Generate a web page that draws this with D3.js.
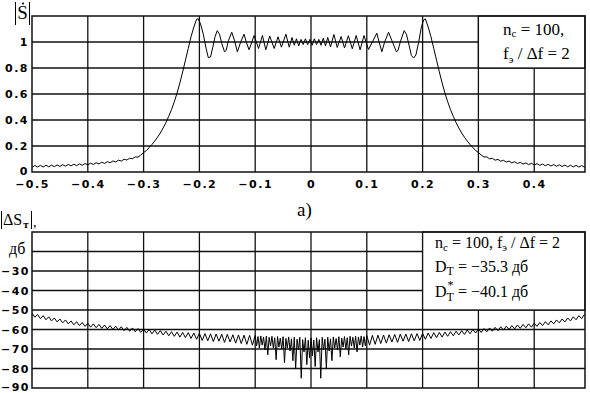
<!DOCTYPE html>
<html><head><meta charset="utf-8">
<script src="https://cdn.jsdelivr.net/npm/d3@7"></script>
<style>
body{margin:0;background:#fff;}
svg{display:block;}
.tl{font-family:"DejaVu Sans",sans-serif;font-weight:bold;font-size:11px;letter-spacing:1.5px;fill:#000;}
.serif{font-family:"Liberation Serif","Times New Roman",serif;fill:#000;}
</style></head><body>
<svg id="c" width="590" height="393"></svg>
<script>
// ---------- data ----------
const xTickValues = [-0.5,-0.4,-0.3,-0.2,-0.1,0,0.1,0.2,0.3,0.4];
const xGridValues = [-0.4,-0.3,-0.2,-0.1,0,0.1,0.2,0.3,0.4];
const topYTickValues = [0,0.2,0.4,0.6,0.8,1];
const topYGridValues = [0.2,0.4,0.6,0.8,1];
const botYTickValues = [-30,-40,-50,-60,-70,-80,-90];
const botYGridValues = [-20,-30,-40,-50,-60,-70,-80];

// |S(f)| — spectrum magnitude
const topSpectrum = [
[-0.500,0.036],[-0.495,0.050],[-0.490,0.038],[-0.485,0.051],[-0.480,0.039],[-0.475,0.052],[-0.470,0.040],[-0.465,0.053],[-0.460,0.041],[-0.455,0.054],
[-0.450,0.043],[-0.445,0.056],[-0.440,0.045],[-0.435,0.058],[-0.430,0.047],[-0.425,0.060],[-0.420,0.049],[-0.415,0.062],[-0.410,0.052],[-0.405,0.065],
[-0.400,0.055],[-0.395,0.068],[-0.390,0.058],[-0.385,0.071],[-0.380,0.062],[-0.375,0.075],[-0.370,0.066],[-0.365,0.080],[-0.360,0.071],[-0.355,0.085],
[-0.350,0.077],[-0.345,0.091],[-0.340,0.084],[-0.335,0.098],[-0.330,0.092],[-0.325,0.106],[-0.320,0.102],[-0.315,0.116],[-0.310,0.114],[-0.305,0.130],
[-0.300,0.150],[-0.295,0.165],[-0.290,0.188],[-0.285,0.212],[-0.280,0.238],[-0.275,0.268],[-0.270,0.300],[-0.265,0.338],[-0.260,0.380],[-0.255,0.428],
[-0.250,0.480],[-0.245,0.540],[-0.240,0.608],[-0.235,0.685],[-0.230,0.770],[-0.225,0.860],[-0.220,0.950],[-0.215,1.040],[-0.210,1.115],[-0.205,1.175],
[-0.202,1.178],[-0.198,1.140],[-0.193,1.060],[-0.188,0.950],[-0.184,0.880],[-0.180,0.885],[-0.176,0.960],[-0.172,1.040],[-0.168,1.087],[-0.164,1.060],
[-0.160,0.990],[-0.155,0.925],[-0.152,0.935],[-0.148,1.010],[-0.142,1.075],[-0.137,1.010],[-0.132,0.925],[-0.126,1.000],[-0.120,1.060],[-0.116,1.000],
[-0.111,0.940],[-0.106,1.000],[-0.102,1.050],[-0.098,1.000],[-0.094,0.950],[-0.087,1.050],[-0.081,0.940],[-0.074,1.046],[-0.066,0.950],[-0.059,1.040],
[-0.053,0.960],[-0.045,1.060],[-0.039,0.960],[-0.034,1.035],[-0.030,0.975],[-0.026,1.025],[-0.022,0.970],[-0.018,1.020],[-0.014,0.980],[-0.010,1.025],
[-0.006,0.980],[-0.002,1.020],[0.002,0.975],[0.006,1.025],[0.010,0.980],[0.014,1.020],[0.018,0.975],[0.022,1.030],[0.026,0.970],[0.030,1.035],
[0.035,0.962],[0.041,1.058],[0.047,0.958],[0.054,1.042],[0.060,0.955],[0.067,1.048],[0.074,0.948],[0.081,1.050],[0.088,0.940],[0.095,1.050],
[0.103,0.942],[0.110,1.000],[0.118,1.068],[0.122,1.000],[0.127,0.925],[0.132,1.000],[0.139,1.075],[0.145,1.010],[0.153,0.925],[0.156,0.935],
[0.160,1.000],[0.167,1.087],[0.171,1.060],[0.176,0.970],[0.180,0.895],[0.184,0.877],[0.188,0.900],[0.193,1.000],[0.198,1.120],[0.202,1.170],
[0.205,1.178],[0.210,1.115],[0.215,1.040],[0.220,0.950],[0.225,0.860],[0.230,0.770],[0.235,0.685],[0.240,0.608],[0.245,0.540],[0.250,0.480],
[0.255,0.428],[0.260,0.380],[0.265,0.338],[0.270,0.300],[0.275,0.268],[0.280,0.238],[0.285,0.212],[0.290,0.188],[0.295,0.165],[0.300,0.150],
[0.305,0.131],[0.310,0.115],[0.315,0.117],[0.320,0.101],[0.325,0.105],[0.330,0.091],[0.335,0.097],[0.340,0.083],[0.345,0.090],[0.350,0.076],
[0.355,0.084],[0.360,0.070],[0.365,0.079],[0.370,0.065],[0.375,0.074],[0.380,0.061],[0.385,0.070],[0.390,0.057],[0.395,0.067],[0.400,0.054],
[0.405,0.064],[0.410,0.051],[0.415,0.061],[0.420,0.048],[0.425,0.059],[0.430,0.046],[0.435,0.057],[0.440,0.044],[0.445,0.055],[0.450,0.042],
[0.455,0.053],[0.460,0.040],[0.465,0.052],[0.470,0.039],[0.475,0.051],[0.480,0.038],[0.485,0.050],[0.490,0.037],[0.495,0.049],[0.500,0.036]
];

// |ΔS_T| in dB
const bottomError = [
[-0.500,-51.6],[-0.495,-53.7],[-0.490,-52.3],[-0.485,-54.4],[-0.480,-52.9],[-0.475,-55.0],[-0.470,-53.5],[-0.465,-55.6],[-0.460,-54.1],[-0.455,-56.1],
[-0.450,-54.6],[-0.445,-56.6],[-0.440,-55.1],[-0.435,-57.1],[-0.430,-55.6],[-0.425,-57.6],[-0.420,-56.0],[-0.415,-58.0],[-0.410,-56.4],[-0.405,-58.4],
[-0.400,-56.8],[-0.395,-58.8],[-0.390,-57.1],[-0.385,-59.1],[-0.380,-57.4],[-0.375,-59.4],[-0.370,-57.7],[-0.365,-59.7],[-0.360,-58.0],[-0.355,-60.0],
[-0.350,-58.3],[-0.345,-60.3],[-0.340,-58.6],[-0.335,-60.6],[-0.330,-58.9],[-0.325,-60.9],[-0.320,-59.2],[-0.315,-61.2],[-0.310,-59.5],[-0.305,-61.5],
[-0.300,-59.8],[-0.295,-61.8],[-0.290,-60.0],[-0.285,-62.2],[-0.280,-60.3],[-0.275,-62.5],[-0.270,-60.6],[-0.265,-62.8],[-0.260,-60.9],[-0.255,-63.2],
[-0.250,-61.1],[-0.245,-63.5],[-0.240,-61.3],[-0.235,-63.9],[-0.230,-61.5],[-0.225,-64.2],[-0.220,-61.6],[-0.215,-64.6],[-0.210,-61.8],[-0.205,-65.0],
[-0.200,-62.0],[-0.195,-65.6],[-0.190,-62.1],[-0.185,-65.8],[-0.180,-62.2],[-0.175,-66.2],[-0.170,-62.3],[-0.165,-66.0],[-0.160,-62.4],[-0.155,-66.6],
[-0.150,-62.5],[-0.145,-66.4],[-0.140,-62.7],[-0.135,-67.0],[-0.130,-62.8],[-0.125,-67.2],[-0.120,-62.9],[-0.115,-67.6],[-0.110,-63.0],[-0.105,-68.0],
[-0.1000,-63.1],[-0.0975,-68.5],[-0.0950,-63.6],[-0.0925,-69.5],[-0.0900,-63.3],[-0.0875,-68.0],[-0.0850,-63.8],[-0.0825,-70.5],[-0.0800,-63.4],[-0.0775,-73.0],
[-0.0750,-64.0],[-0.0725,-68.5],[-0.0700,-63.5],[-0.0675,-69.5],[-0.0650,-64.2],[-0.0625,-75.5],[-0.0600,-63.6],[-0.0575,-69.0],[-0.0550,-64.4],[-0.0525,-70.0],
[-0.0500,-63.7],[-0.0475,-77.0],[-0.0450,-64.6],[-0.0425,-69.5],[-0.0400,-63.8],[-0.0375,-71.0],[-0.0350,-64.8],[-0.0325,-76.0],[-0.0300,-64.0],[-0.0275,-80.0],
[-0.0250,-65.0],[-0.0225,-70.5],[-0.0200,-64.0],[-0.0175,-85.0],[-0.0150,-65.2],[-0.0125,-71.5],[-0.0100,-64.2],[-0.0075,-78.0],[-0.0050,-65.5],[-0.0025,-74.5],
[0.0000,-64.3],[0.0025,-73.5],[0.0050,-65.5],[0.0075,-79.0],[0.0100,-64.2],[0.0125,-71.5],[0.0150,-65.2],[0.0175,-85.0],[0.0200,-64.0],[0.0225,-70.5],
[0.0250,-65.0],[0.0275,-80.0],[0.0300,-64.0],[0.0325,-71.0],[0.0350,-64.8],[0.0375,-76.0],[0.0400,-63.8],[0.0425,-69.5],[0.0450,-64.6],[0.0475,-70.5],
[0.0500,-63.7],[0.0525,-74.0],[0.0550,-64.4],[0.0575,-69.0],[0.0600,-63.6],[0.0625,-70.0],[0.0650,-64.2],[0.0675,-73.0],[0.0700,-63.5],[0.0725,-68.5],
[0.0750,-64.0],[0.0775,-69.5],[0.0800,-63.4],[0.0825,-71.5],[0.0850,-63.8],[0.0875,-68.0],[0.0900,-63.3],[0.0925,-69.0],[0.0950,-63.6],[0.0975,-68.5],
[0.100,-63.1],[0.105,-68.0],[0.110,-63.0],[0.115,-67.6],[0.120,-62.9],[0.125,-67.2],[0.130,-62.8],[0.135,-67.0],[0.140,-62.7],
[0.145,-66.4],[0.150,-62.5],[0.155,-66.6],[0.160,-62.4],[0.165,-66.0],[0.170,-62.3],[0.175,-66.2],[0.180,-62.2],[0.185,-65.8],[0.190,-62.1],
[0.195,-65.6],[0.200,-62.0],[0.205,-65.0],[0.210,-61.8],[0.215,-64.6],[0.220,-61.6],[0.225,-64.2],[0.230,-61.5],[0.235,-63.9],[0.240,-61.3],
[0.245,-63.5],[0.250,-61.1],[0.255,-63.2],[0.260,-60.9],[0.265,-62.8],[0.270,-60.6],[0.275,-62.5],[0.280,-60.3],[0.285,-62.2],[0.290,-60.0],
[0.295,-61.8],[0.300,-59.8],[0.305,-61.5],[0.310,-59.5],[0.315,-61.2],[0.320,-59.2],[0.325,-60.9],[0.330,-58.9],[0.335,-60.6],[0.340,-58.6],
[0.345,-60.3],[0.350,-58.3],[0.355,-60.0],[0.360,-58.0],[0.365,-59.7],[0.370,-57.7],[0.375,-59.4],[0.380,-57.4],[0.385,-59.1],[0.390,-57.1],
[0.395,-58.8],[0.400,-56.8],[0.405,-58.4],[0.410,-56.4],[0.415,-58.0],[0.420,-56.0],[0.425,-57.6],[0.430,-55.6],[0.435,-57.1],[0.440,-55.1],
[0.445,-56.6],[0.450,-54.6],[0.455,-56.1],[0.460,-54.1],[0.465,-55.6],[0.470,-53.5],[0.475,-55.0],[0.480,-52.9],[0.485,-54.4],[0.490,-52.3],
[0.495,-53.7],[0.500,-51.6]
];

// ---------- drawing ----------
const svg = d3.select('#c');
const frameL = 32, frameR = 585;
const x = d3.scaleLinear().domain([-0.5,0.5]).range([32,590]);
const yT = d3.scaleLinear().domain([0,1.2]).range([172,16]);
const yB = d3.scaleLinear().domain([-90,-10]).range([388,232]);
const fmt = d => d === 0 ? '0' : (d < 0 ? '\u2212' : '') + Math.abs(d);
const LINE = '#111';

const defs = svg.append('defs');
function clip(id, y0, y1){
  defs.append('clipPath').attr('id', id).append('rect')
    .attr('x', frameL).attr('y', y0).attr('width', frameR-frameL).attr('height', y1-y0);
}
clip('clipT', yT(1.2), yT(0));
clip('clipB', yB(-10), yB(-90));

function panel(y, yGrid, data, clipId, legendX, legendYBottom){
  const g = svg.append('g');
  const [yb, yt] = [y.range()[0], y.range()[1]];
  g.selectAll('.vg').data(xGridValues).join('line')
    .attr('x1', d=>x(d)).attr('x2', d=>x(d)).attr('y1', yt).attr('y2', yb)
    .attr('stroke', LINE).attr('stroke-width', 1.3);
  g.selectAll('.hg').data(yGrid).join('line')
    .attr('x1', frameL).attr('x2', frameR).attr('y1', d=>y(d)).attr('y2', d=>y(d))
    .attr('stroke', LINE).attr('stroke-width', 1.3);
  const line = d3.line().x(d=>x(d[0])).y(d=>y(d[1]));
  g.append('path').datum(data).attr('d', line)
    .attr('fill','none').attr('stroke','#000').attr('stroke-width',1)
    .attr('clip-path', `url(#${clipId})`);
  g.append('rect').attr('x', x(legendX)).attr('y', yt)
    .attr('width', frameR - x(legendX)).attr('height', y(legendYBottom) - yt)
    .attr('fill','#fff').attr('stroke', LINE).attr('stroke-width',1.3);
  g.append('rect').attr('x', frameL).attr('y', yt)
    .attr('width', frameR-frameL).attr('height', yb-yt)
    .attr('fill','none').attr('stroke', LINE).attr('stroke-width',1.5);
  return g;
}

panel(yT, topYGridValues, topSpectrum, 'clipT', 0.3, 0.8);
panel(yB, botYGridValues, bottomError, 'clipB', 0.2, -50);

// axes labels
const axT = svg.append('g').attr('transform',`translate(${frameL},0)`)
  .call(d3.axisLeft(yT).tickValues(topYTickValues).tickSize(0).tickPadding(3).tickFormat(fmt));
axT.select('.domain').remove();
axT.selectAll('text').attr('class','tl').attr('dy', d => d === 0 ? '0.2em' : '0.36em');

const axX = svg.append('g').attr('transform',`translate(0,${yT(0)})`)
  .call(d3.axisBottom(x).tickValues(xTickValues).tickSize(0).tickPadding(8).tickFormat(fmt));
axX.select('.domain').remove();
axX.selectAll('text').attr('class','tl');

const axB = svg.append('g').attr('transform',`translate(${frameL},0)`)
  .call(d3.axisLeft(yB).tickValues(botYTickValues).tickSize(0).tickPadding(2).tickFormat(fmt));
axB.select('.domain').remove();
axB.selectAll('text').attr('class','tl').attr('dy', d => d === -90 ? '0.2em' : '0.36em');

// top-left |Ṡ|
const lab = svg.append('g');
lab.append('line').attr('x1',15.5).attr('x2',15.5).attr('y1',2).attr('y2',25).attr('stroke','#000').attr('stroke-width',1);
lab.append('line').attr('x1',29.5).attr('x2',29.5).attr('y1',2).attr('y2',25).attr('stroke','#000').attr('stroke-width',1);
lab.append('text').attr('class','serif').attr('x',22.5).attr('y',19).attr('text-anchor','middle').attr('font-size',19).text('S');
lab.append('circle').attr('cx',23).attr('cy',3.5).attr('r',1.1).attr('fill','#000');

// |ΔS_т|,  дб
lab.append('line').attr('x1',1.5).attr('x2',1.5).attr('y1',211).attr('y2',229).attr('stroke','#000').attr('stroke-width',1);
lab.append('line').attr('x1',31.5).attr('x2',31.5).attr('y1',211).attr('y2',229).attr('stroke','#000').attr('stroke-width',1);
const dS = lab.append('text').attr('class','serif').attr('x',3).attr('y',225).attr('font-size',16);
dS.append('tspan').text('ΔS');
dS.append('tspan').attr('font-size',11).attr('font-weight','bold').attr('dy',3).attr('dx',1).text('т');
lab.append('text').attr('class','serif').attr('x',33).attr('y',227).attr('font-size',14).text(',');
lab.append('text').attr('class','serif').attr('x',9).attr('y',254).attr('font-size',16).text('дб');

// а)
lab.append('text').attr('class','serif').attr('x',297).attr('y',216).attr('font-size',19).text('а)');

// top legend
const l1 = svg.append('text').attr('class','serif').attr('x',503).attr('y',35).attr('font-size',17);
l1.append('tspan').text('n');
l1.append('tspan').attr('font-size',11).attr('dy',2).text('c');
l1.append('tspan').attr('dy',-2).text(' = 100,');
const l2 = svg.append('text').attr('class','serif').attr('x',503).attr('y',59).attr('font-size',17);
l2.append('tspan').text('f');
l2.append('tspan').attr('font-size',11).attr('dy',4).text('э');
l2.append('tspan').attr('dy',-4).text(' / Δf = 2');

// bottom legend
const b1 = svg.append('text').attr('class','serif').attr('x',435).attr('y',248).attr('font-size',16);
b1.append('tspan').text('n');
b1.append('tspan').attr('font-size',11).attr('dy',3).text('c');
b1.append('tspan').attr('dy',-3).text(' = 100, f');
b1.append('tspan').attr('font-size',11).attr('dy',3).text('э');
b1.append('tspan').attr('dy',-3).text(' / Δf = 2');
const b2 = svg.append('text').attr('class','serif').attr('x',435).attr('y',272).attr('font-size',16);
b2.append('tspan').text('D');
b2.append('tspan').attr('font-size',12).attr('dy',3).text('T');
b2.append('tspan').attr('dy',-3).text(' = \u221235.3 дб');
const b3 = svg.append('text').attr('class','serif').attr('x',435).attr('y',297).attr('font-size',16);
b3.append('tspan').text('D');
b3.append('tspan').attr('font-size',12).attr('dx',1).attr('dy',-8).text('*');
b3.append('tspan').attr('font-size',12).attr('dx',-7).attr('dy',12).text('T');
b3.append('tspan').attr('dy',-4).text(' = \u221240.1 дб');
</script>
</body></html>
